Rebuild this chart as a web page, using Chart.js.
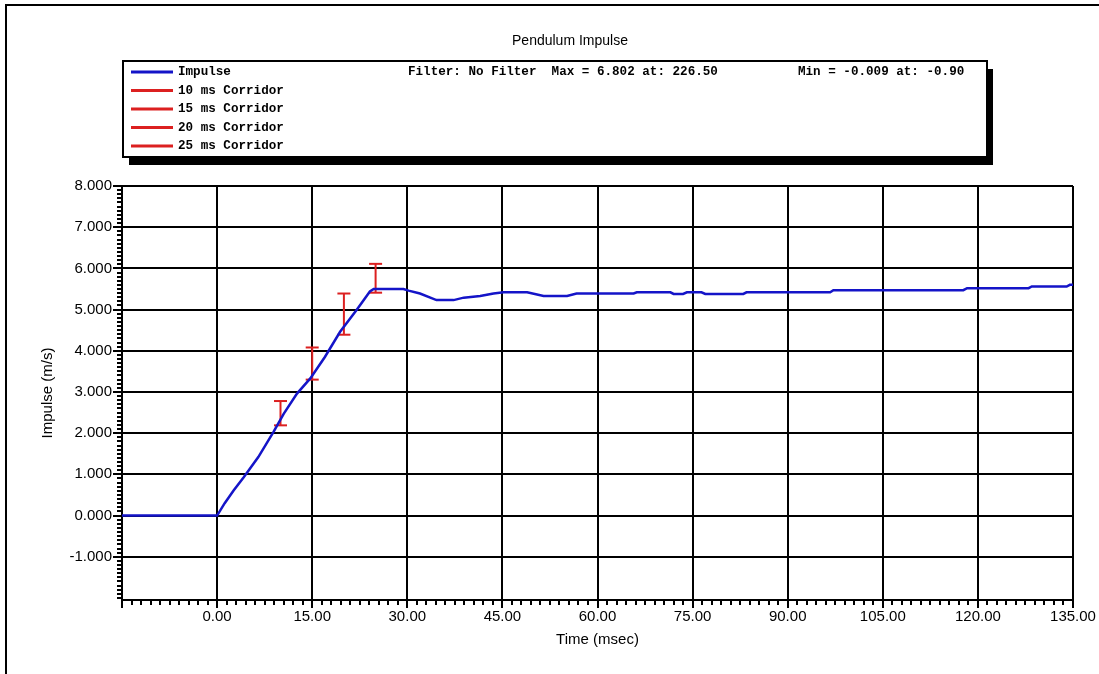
<!DOCTYPE html>
<html>
<head>
<meta charset="utf-8">
<title>Pendulum Impulse</title>
<script src="https://cdn.jsdelivr.net/npm/chart.js@4.4.1/dist/chart.umd.min.js"></script>
<style>
  html, body { margin: 0; padding: 0; background: #fff; }
  #wrap { width: 1099px; height: 674px; }
</style>
</head>
<body>
<div id="wrap"><canvas id="chart" width="1099" height="674"></canvas></div>
<script>
// time (msec) and impulse (m/s)
const timeMs = [-15, 0, 1.2, 2.6, 4.2, 6.5, 8.9, 10.5, 12.6, 14.7, 17.0, 19.4, 22.0, 24.1, 24.7,
  29.4, 30.2, 32.0, 34.6, 37.3, 38.9, 41.5, 43.6, 45.2, 48.9, 51.5, 55.2, 56.7, 65.7, 66.2,
  71.5, 72.0, 73.5, 74.1, 76.4, 77.0, 83.0, 83.5, 96.7, 97.2, 117.7, 118.3, 128.0, 128.5,
  134.0, 134.5, 135];
const impulse = [0, 0, 0.30, 0.61, 0.93, 1.42, 2.03, 2.47, 2.96, 3.33, 3.85, 4.46, 4.99, 5.44, 5.50,
  5.50, 5.46, 5.39, 5.23, 5.23, 5.29, 5.33, 5.39, 5.42, 5.42, 5.33, 5.33, 5.39, 5.39, 5.42,
  5.42, 5.38, 5.38, 5.42, 5.42, 5.38, 5.38, 5.42, 5.42, 5.47, 5.47, 5.52, 5.52, 5.56,
  5.56, 5.60, 5.60];

// corridors: time, low, high
const corridorTimes = [10, 15, 20, 25];
const corridorLow = [2.19, 3.30, 4.39, 5.41];
const corridorHigh = [2.78, 4.08, 5.39, 6.11];
const corridorLabels = ['10 ms Corridor', '15 ms Corridor', '20 ms Corridor', '25 ms Corridor'];

const chartTitle = 'Pendulum Impulse';
const statsText = ['Filter: No Filter  Max = 6.802 at: 226.50', 'Min = -0.009 at: -0.90'];

const BLUE = '#1414c8';
const RED = '#dc2020';

const impulseData = timeMs.map((t, i) => ({ x: t, y: impulse[i] }));

const datasets = [{
  label: 'Impulse',
  data: impulseData,
  borderColor: BLUE,
  borderWidth: 2.5,
  pointRadius: 0,
  tension: 0
}];
corridorTimes.forEach((t, i) => {
  datasets.push({
    label: corridorLabels[i],
    data: [{ x: t, y: corridorLow[i] }, { x: t, y: corridorHigh[i] }],
    borderColor: RED,
    backgroundColor: RED,
    borderWidth: 2,
    pointStyle: 'line',
    pointRadius: 6.5,
    pointBorderWidth: 2,
    pointBorderColor: RED,
    tension: 0
  });
});

// frame, title, legend box and minor ticks
const decor = {
  id: 'decor',
  beforeDraw(chart) {
    const ctx = chart.ctx;
    ctx.save();
    ctx.fillStyle = '#fff';
    ctx.fillRect(0, 0, chart.width, chart.height);
    // outer frame (top + left only)
    ctx.strokeStyle = '#000';
    ctx.lineWidth = 2;
    ctx.beginPath();
    ctx.moveTo(6, chart.height);
    ctx.lineTo(6, 5);
    ctx.lineTo(chart.width, 5);
    ctx.stroke();
    ctx.restore();
  },
  afterDraw(chart) {
    const ctx = chart.ctx;
    const xs = chart.scales.x, ys = chart.scales.y;
    const area = chart.chartArea;
    ctx.save();

    // title
    ctx.fillStyle = '#000';
    ctx.font = '14px "Liberation Sans", Arial, sans-serif';
    ctx.textAlign = 'center';
    ctx.textBaseline = 'middle';
    ctx.fillText(chartTitle, 570, 41);

    // legend box with shadow
    const bx = 123, by = 61, bw = 864, bh = 96;
    ctx.fillStyle = '#000';
    ctx.fillRect(bx + 6, by + 8, bw, bh);
    ctx.fillStyle = '#fff';
    ctx.fillRect(bx, by, bw, bh);
    ctx.strokeStyle = '#000';
    ctx.lineWidth = 2;
    ctx.strokeRect(bx, by, bw, bh);

    ctx.font = 'bold 12.6px "Courier New", "Liberation Mono", monospace';
    ctx.textAlign = 'left';
    chart.data.datasets.forEach((ds, i) => {
      const y = 72 + i * 18.5;
      ctx.strokeStyle = ds.borderColor;
      ctx.lineWidth = 3;
      ctx.beginPath();
      ctx.moveTo(131, y);
      ctx.lineTo(173, y);
      ctx.stroke();
      ctx.fillStyle = '#000';
      ctx.fillText(ds.label, 178, y);
    });
    ctx.fillText(statsText[0], 408, 72);
    ctx.fillText(statsText[1], 798, 72);

    // minor ticks
    ctx.strokeStyle = '#000';
    ctx.lineWidth = 2;
    ctx.beginPath();
    for (let i = 0; i <= 100; i++) {
      const px = Math.round(xs.getPixelForValue(xs.min + i * 1.5));
      ctx.moveTo(px, area.bottom);
      ctx.lineTo(px, area.bottom + 5);
    }
    for (let i = -20; i <= 80; i++) {
      const py = Math.round(ys.getPixelForValue(i / 10));
      ctx.moveTo(area.left - 5, py);
      ctx.lineTo(area.left, py);
    }
    ctx.stroke();
    ctx.restore();
  }
};

const tickFont = { family: '"Liberation Sans", Arial, sans-serif', size: 15 };

new Chart(document.getElementById('chart'), {
  type: 'line',
  data: { datasets },
  options: {
    responsive: false,
    animation: false,
    parsing: true,
    layout: { padding: { left: 0, right: 26, top: 186, bottom: 0 } },
    plugins: {
      legend: { display: false },
      title: { display: false },
      tooltip: { enabled: false }
    },
    scales: {
      x: {
        type: 'linear',
        min: -15,
        max: 135,
        afterFit(scale) { scale.height = 74; },
        ticks: {
          stepSize: 15,
          autoSkip: false,
          maxRotation: 0,
          padding: 0,
          color: '#000',
          font: tickFont,
          callback: (v) => v < -1 ? '' : Number(v).toFixed(2)
        },
        grid: { color: '#000', lineWidth: 2, tickLength: 8 },
        border: { color: '#000', width: 2 },
        title: {
          display: true,
          text: 'Time (msec)',
          color: '#000',
          font: tickFont,
          padding: { top: 0, bottom: 25 }
        }
      },
      y: {
        type: 'linear',
        min: -2.05,
        max: 8,
        afterFit(scale) { scale.width = 122; },
        afterBuildTicks(scale) { scale.ticks = scale.ticks.filter(t => t.value > -1.5); },
        ticks: {
          stepSize: 1,
          autoSkip: false,
          padding: 1,
          color: '#000',
          font: tickFont,
          callback: (v) => Number(v).toFixed(3)
        },
        grid: { color: '#000', lineWidth: 2, tickLength: 9 },
        border: { color: '#000', width: 2 },
        title: {
          display: true,
          text: 'Impulse (m/s)',
          color: '#000',
          font: tickFont,
          padding: { top: 39, bottom: 0 }
        }
      }
    }
  },
  plugins: [decor]
});
</script>
</body>
</html>
